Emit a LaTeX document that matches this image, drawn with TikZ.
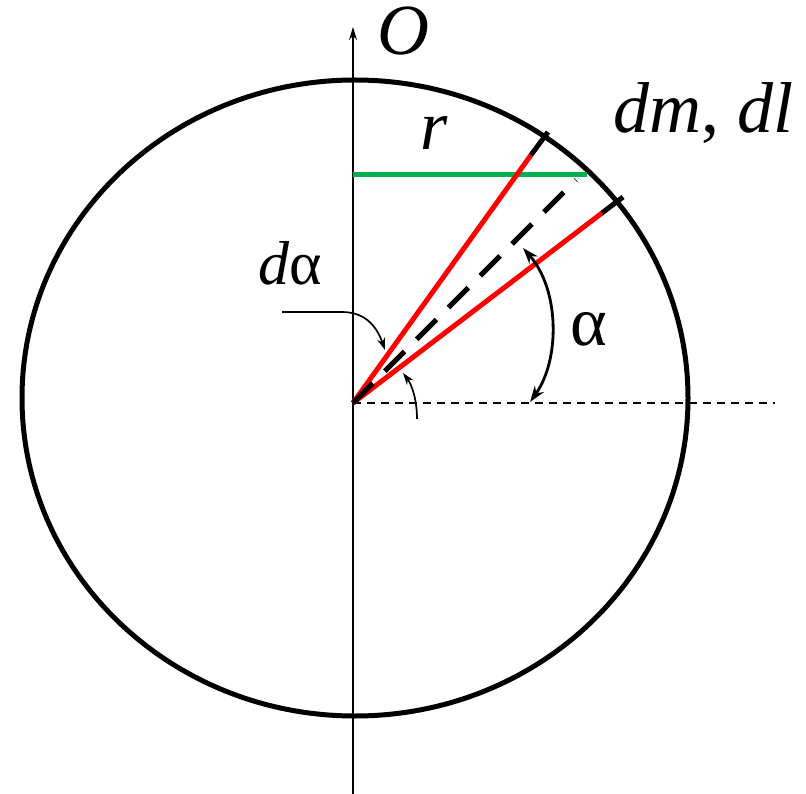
\documentclass[tikz,border=0pt]{standalone}
\usepackage{fontspec}
\setmainfont{Liberation Serif}
\usetikzlibrary{arrows.meta,calc,positioning}
\definecolor{rayRed}{HTML}{FF0000}
\definecolor{chordGreen}{HTML}{00B050}

\begin{document}
\begin{tikzpicture}[x=1pt,y=-1pt,
    ring/.style={line width=5pt},
    ray/.style={rayRed,line width=5pt},
    rimtick/.style={line width=5pt},
    bisect/.style={line width=5pt,dash pattern=on 28pt off 17pt},
    axisline/.style={line width=1.5pt},
    refline/.style={line width=1.4pt,dash pattern=on 8pt off 6pt},
    pointer/.style={line width=1.7pt,-{Stealth[length=12pt,width=8pt]}},
    lbl/.style={inner sep=0pt,anchor=base west}]
  \useasboundingbox (0,0) rectangle (806,794);

  \coordinate (apex) at (353,403);
  \coordinate (axbot) at (353,794);
  \coordinate (axtop) at (353,27);
  \coordinate (refend) at (775,403);
  \coordinate (chordL) at (353,175);
  \coordinate (chordR) at (587,175);
  \coordinate (upEnd) at (531,155);
  \coordinate (upOut) at (548,132);
  \coordinate (loEnd) at (602,213);
  \coordinate (loOut) at (623,197);
  \coordinate (midEnd) at (576,180);

  \draw[ring] (355,398) ellipse [x radius=333, y radius=318];
  \draw[axisline,-{Stealth[length=13pt,width=8pt]}] (axbot) -- (axtop);
  \draw[refline] (apex) -- (refend);
  \draw[chordGreen,line width=5pt] (chordL) -- (chordR);
  \draw[ray] (apex) -- (upEnd);
  \draw[ray] (apex) -- (loEnd);
  \draw[rimtick] (upEnd) -- (upOut);
  \draw[rimtick] (loEnd) -- (loOut);
  \draw[bisect] (apex) -- (midEnd);

  \coordinate (aBot) at (530,402);
  \coordinate (aTop) at (523,248);
  \draw[line width=2.8pt,{Stealth[length=16pt,width=11pt]}-{Stealth[length=16pt,width=11pt]}]
    (aBot) .. controls (560,360) and (560,290) .. (aTop);

  \coordinate (daStart) at (282,312);
  \coordinate (daKnee) at (342,312);
  \coordinate (daTip) at (385,350);
  \draw[pointer] (daStart) -- (daKnee) .. controls (368,312) and (378,330) .. (daTip);
  \coordinate (dbStart) at (417,419);
  \coordinate (dbTip) at (403,373);
  \draw[pointer] (dbStart) .. controls (417,400) and (412,385) .. (dbTip);

  \node[lbl,font=\fontsize{72}{72}\selectfont\itshape] (oLbl) at (377,55) {O};
  \node[lbl,font=\fontsize{70}{70}\selectfont\itshape] (rLbl) at (420,150) {r};
  \node[lbl,font=\fontsize{72}{72}\selectfont] (dmLbl) at (613,133) {\textit{dm}, \textit{dl}};
  \node[lbl,font=\fontsize{62}{62}\selectfont] (daLbl) at (258,285) {\textit{d}α};
  \node[lbl,font=\fontsize{70}{70}\selectfont] (alLbl) at (570,345) {α};
\end{tikzpicture}
\end{document}
